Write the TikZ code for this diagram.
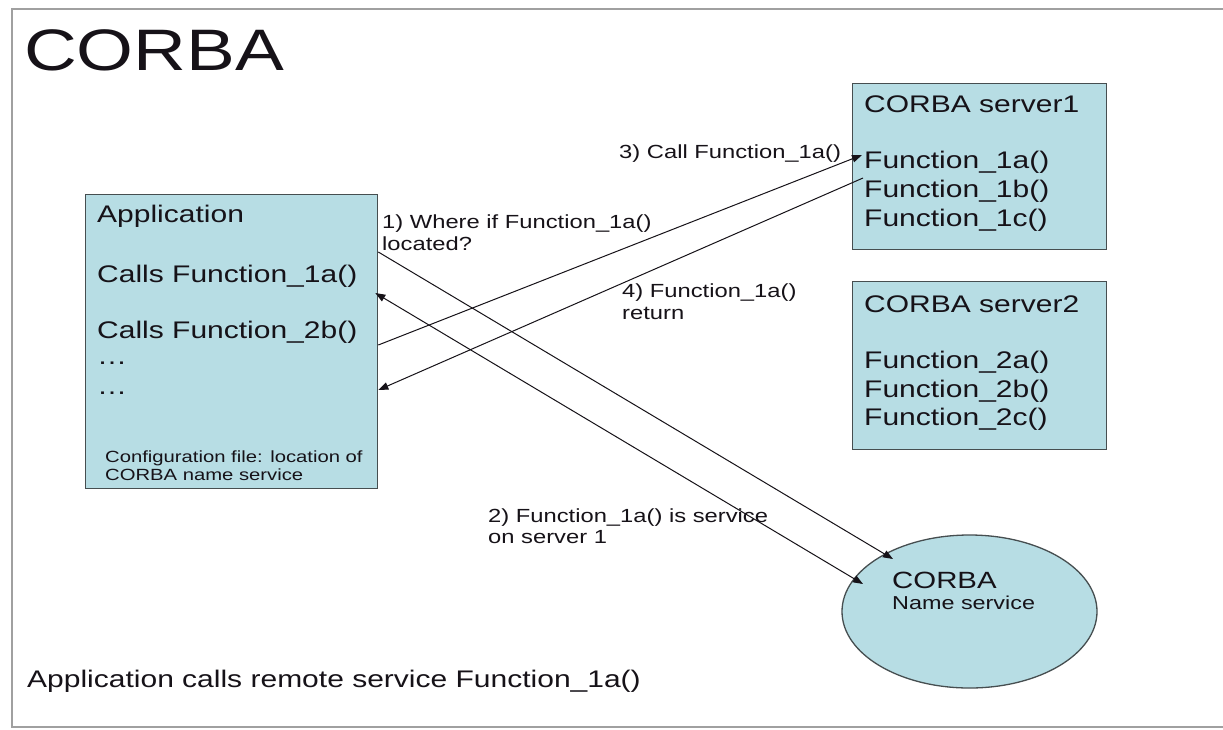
\documentclass[tikz,border=0pt]{standalone}
\usepackage{fontspec}
\setmainfont[FakeStretch=1.25]{Liberation Sans}
\usetikzlibrary{arrows.meta,shapes.geometric,calc}
\definecolor{boxfill}{RGB}{183,221,228}
\definecolor{boxline}{RGB}{70,78,80}
\definecolor{framegray}{RGB}{160,160,160}
\definecolor{ink}{RGB}{22,18,24}
\newcommand{\fs}[1]{\fontsize{#1}{#1}\selectfont}
\begin{document}
\begin{tikzpicture}[x=1pt,y=-1pt,
  panel/.style={draw=boxline,line width=1.3pt,fill=boxfill,inner sep=0pt,anchor=north west},
  txt/.style={anchor=base west,inner sep=0pt,text=ink},
  bigtxt/.style={txt,font=\fs{24}},
  lbltxt/.style={txt,font=\fs{19}},
  flow/.style={draw=ink,line width=1pt,-{Triangle[length=10pt,width=7.5pt]}},
  flowboth/.style={draw=ink,line width=1pt,{Triangle[length=10pt,width=7.5pt]}-{Triangle[length=10pt,width=7.5pt]}}]
\useasboundingbox (0,0) rectangle (1223,729);
\fill[white] (0,0) rectangle (1223,729);
% slide frame
\draw[framegray,line width=2.2pt] (1223,9) -- (12,9) -- (12,727) -- (1223,727);

% title
\node[txt,font=\fs{58.5}] (title) at (24,70) {CORBA};

% application box
\node[panel,minimum width=292pt,minimum height=294pt] (app) at (85,194) {};
\node[bigtxt] (appname) at (97,222) {Application};
\node[bigtxt] (call1) at (97,282) {Calls Function\_1a()};
\node[bigtxt] (call2) at (97,338) {Calls Function\_2b()};
\node[bigtxt] (dots1) at (97,364) {\dots};
\node[bigtxt] (dots2) at (97,394) {\dots};
\node[txt,font=\fs{16.2}] (cfg1) at (105,462) {Configuration file: location of};
\node[txt,font=\fs{16.2}] (cfg2) at (105,480) {CORBA name service};

% server boxes
\node[panel,minimum width=254pt,minimum height=166pt] (s1) at (852,83) {};
\node[bigtxt] (s1name) at (864,112) {CORBA server1};
\node[bigtxt] (f1a) at (864,168) {Function\_1a()};
\node[bigtxt] (f1b) at (864,197) {Function\_1b()};
\node[bigtxt] (f1c) at (864,226) {Function\_1c()};

\node[panel,minimum width=254pt,minimum height=168pt] (s2) at (852,281) {};
\node[bigtxt] (s2name) at (864,312) {CORBA server2};
\node[bigtxt] (f2a) at (864,368) {Function\_2a()};
\node[bigtxt] (f2b) at (864,397) {Function\_2b()};
\node[bigtxt] (f2c) at (864,425) {Function\_2c()};

% name service
\node[ellipse,draw=boxline,line width=1.3pt,fill=boxfill,inner sep=0pt,
  minimum width=255pt,minimum height=153pt] (ns) at (969.5,611.5) {};
\node[txt,font=\fs{23.5}] (nsname) at (892,588) {CORBA};
\node[txt,font=\fs{18.7}] (nssub) at (892,609) {Name service};

% message flow
\coordinate (a1) at ($(app.north east)+(0,58)$);
\coordinate (n1) at ($(ns.center)+(-76.5,-52.5)$);
\coordinate (n2) at ($(ns.center)+(-106.5,-27.5)$);
\coordinate (a2) at ($(app.north east)+(-3,99)$);
\coordinate (a3) at ($(app.north east)+(0,151)$);
\coordinate (t3) at ($(s1.north west)+(10,72)$);
\coordinate (t4) at ($(s1.north west)+(11,95)$);
\coordinate (a4) at ($(app.north east)+(0,196)$);
\draw[flow] (a1) -- (n1);
\draw[flowboth] (n2) -- (a2);
\draw[flow] (a3) -- (t3);
\draw[flow] (t4) -- (a4);

% step labels
\node[lbltxt] (l1a) at (382,228) {1) Where if Function\_1a()};
\node[lbltxt] (l1b) at (382,250) {located?};
\node[lbltxt] (l2a) at (488,522) {2) Function\_1a() is service};
\node[lbltxt] (l2b) at (488,543) {on server 1};
\node[lbltxt] (l3) at (619,158) {3) Call Function\_1a()};
\node[lbltxt] (l4a) at (622,297) {4) Function\_1a()};
\node[lbltxt] (l4b) at (622,319) {return};

% caption
\node[bigtxt] (caption) at (27,687) {Application calls remote service Function\_1a()};
\end{tikzpicture}
\end{document}
